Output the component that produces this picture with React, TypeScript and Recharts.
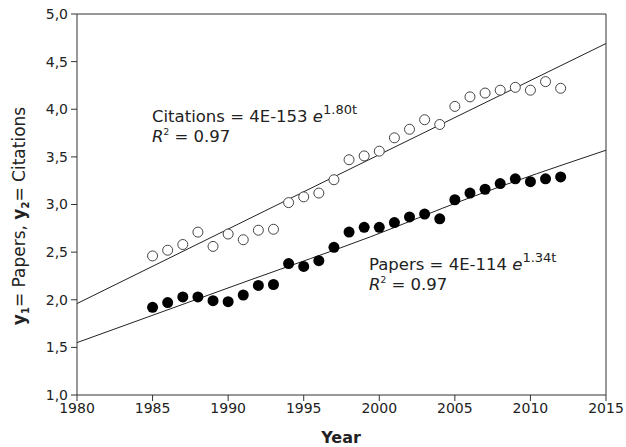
import { ComposedChart, Scatter, Line, XAxis, YAxis, ReferenceLine, Customized } from 'recharts';

const years = [1985, 1986, 1987, 1988, 1989, 1990, 1991, 1992, 1993, 1994, 1995, 1996, 1997, 1998,
  1999, 2000, 2001, 2002, 2003, 2004, 2005, 2006, 2007, 2008, 2009, 2010, 2011, 2012];
const citationValues = [2.46, 2.52, 2.58, 2.71, 2.56, 2.69, 2.63, 2.73, 2.74, 3.02, 3.08, 3.12, 3.26, 3.47,
  3.51, 3.56, 3.70, 3.79, 3.89, 3.84, 4.03, 4.13, 4.17, 4.20, 4.23, 4.20, 4.29, 4.22];
const paperValues = [1.92, 1.97, 2.03, 2.03, 1.99, 1.98, 2.05, 2.15, 2.16, 2.38, 2.35, 2.41, 2.55, 2.71,
  2.76, 2.76, 2.81, 2.87, 2.90, 2.85, 3.05, 3.12, 3.16, 3.22, 3.27, 3.24, 3.27, 3.29];

// trend lines
const citationFitYears = [1980, 1997, 2015];
const citationFit = [1.96, 3.29, 4.69];
const paperFitYears = [1980, 1991.5, 1999.4, 2005.8, 2015];
const paperFit = [1.55, 2.21, 2.66, 3.06, 3.57];

const xTicks = [1980, 1985, 1990, 1995, 2000, 2005, 2010, 2015];
const yTicks = [1.0, 1.5, 2.0, 2.5, 3.0, 3.5, 4.0, 4.5, 5.0];

const citations = years.map((year, i) => ({ year, v: citationValues[i] }));
const papers = years.map((year, i) => ({ year, v: paperValues[i] }));
const citationLine = citationFitYears.map((year, i) => ({ year, v: citationFit[i] }));
const paperLine = paperFitYears.map((year, i) => ({ year, v: paperFit[i] }));

const FONT = '"DejaVu Sans", Verdana, sans-serif';
const AXIS = '#333';

const OpenDot = (props: any) => (
  <circle cx={props.cx} cy={props.cy} r={5} fill="#fff" stroke="#444" strokeWidth={1} />
);
const FilledDot = (props: any) => (
  <circle cx={props.cx} cy={props.cy} r={5.5} fill="#000" />
);

function Annotations() {
  return (
    <g fontFamily={FONT} fill="#222">
      <text x={152} y={122} fontSize={16.5}>
        Citations = 4E-153 <tspan fontStyle="italic">e</tspan>
        <tspan fontSize={13} dy={-8}>1.80t</tspan>
      </text>
      <text x={152} y={142} fontSize={16.5}>
        <tspan fontStyle="italic">R</tspan>
        <tspan fontSize={9} dy={-7}>2</tspan>
        <tspan dy={7}> = 0.97</tspan>
      </text>
      <text x={369} y={270} fontSize={16.5}>
        Papers = 4E-114 <tspan fontStyle="italic">e</tspan>
        <tspan fontSize={13} dy={-8}>1.34t</tspan>
      </text>
      <text x={369} y={290} fontSize={16.5}>
        <tspan fontStyle="italic">R</tspan>
        <tspan fontSize={9} dy={-7}>2</tspan>
        <tspan dy={7}> = 0.97</tspan>
      </text>
      <text x={341} y={443} fontSize={16} fontWeight="bold" textAnchor="middle">Year</text>
      <text x={25} y={216} fontSize={17} textAnchor="middle" transform="rotate(-90 25 216)">
        <tspan fontWeight="bold">y</tspan>
        <tspan fontWeight="bold" fontSize={10} dy={4}>1</tspan>
        <tspan dy={-4}>= Papers, </tspan>
        <tspan fontWeight="bold">y</tspan>
        <tspan fontWeight="bold" fontSize={10} dy={4}>2</tspan>
        <tspan dy={-4}>= Citations</tspan>
      </text>
    </g>
  );
}

export default function App() {
  return (
    <div style={{ position: 'absolute', left: 0, top: 0, background: '#fff' }}>
      <ComposedChart width={626} height={447} margin={{ top: 14, right: 20, bottom: 22, left: 7 }}>
        <XAxis
          dataKey="year"
          type="number"
          domain={[1980, 2015]}
          ticks={xTicks}
          height={30}
          stroke={AXIS}
          tickSize={6}
          tickMargin={2}
          tick={{ fontSize: 14, fontFamily: FONT, fill: '#222' }}
          allowDuplicatedCategory={false}
        />
        <YAxis
          type="number"
          domain={[1, 5]}
          ticks={yTicks}
          width={70}
          stroke={AXIS}
          tickSize={6}
          tickMargin={3}
          tickFormatter={(v: number) => v.toFixed(1).replace('.', ',')}
          tick={{ fontSize: 14, fontFamily: FONT, fill: '#222' }}
        />
        <ReferenceLine y={5} stroke={AXIS} />
        <ReferenceLine x={2015} stroke={AXIS} />
        <Line data={citationLine} dataKey="v" type="monotone" stroke="#222" strokeWidth={1} dot={false} isAnimationActive={false} />
        <Line data={paperLine} dataKey="v" type="monotone" stroke="#222" strokeWidth={1} dot={false} isAnimationActive={false} />
        <Scatter data={citations} dataKey="v" shape={OpenDot} isAnimationActive={false} />
        <Scatter data={papers} dataKey="v" shape={FilledDot} isAnimationActive={false} />
        <Customized component={Annotations} />
      </ComposedChart>
    </div>
  );
}
